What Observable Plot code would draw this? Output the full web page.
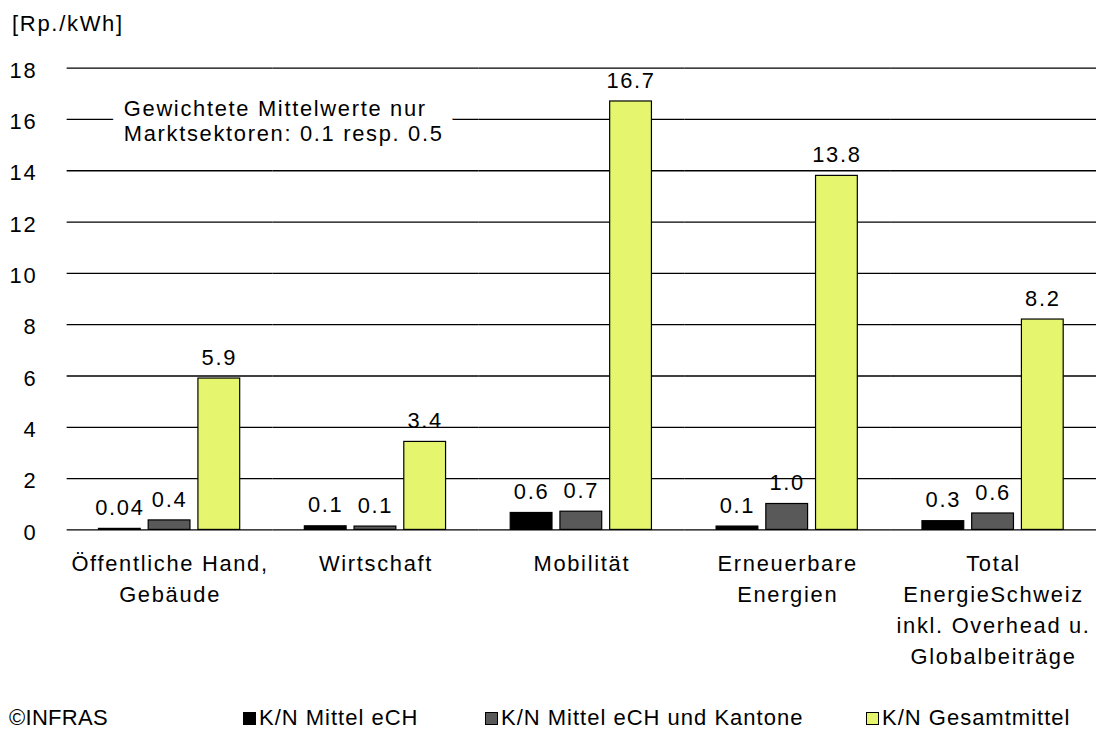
<!DOCTYPE html>
<html><head><meta charset="utf-8">
<script src="https://cdn.jsdelivr.net/npm/d3@7"></script>
<script src="https://cdn.jsdelivr.net/npm/@observablehq/plot@0.6"></script>
<style>
body{margin:0;overflow:hidden;background:#fff;}
#wrap{position:relative;width:1098px;height:729px;overflow:hidden;font-family:"Liberation Sans",Arial,sans-serif;color:#000;}
.lbl{position:absolute;font-size:22px;line-height:22px;white-space:nowrap;letter-spacing:1.7px}
.leg{letter-spacing:1px}
.sw{display:inline-block;width:13px;height:13px;box-sizing:border-box;border:1px solid #000;margin-right:3px;vertical-align:baseline}
#chart{position:absolute;left:0;top:0}
</style></head>
<body><div id="wrap"><div id="chart"></div>
<div class="lbl" style="left:12px;top:13.4px">[Rp./kWh]</div>
<div class="lbl" style="left:9px;top:707.4px;letter-spacing:0.3px">©INFRAS</div>
</div>
<script>
// ---- data ----
const categories = ["Öffentliche Hand, Gebäude", "Wirtschaft", "Mobilität", "Erneuerbare Energien", "Total EnergieSchweiz inkl. Overhead u. Globalbeiträge"];
const categoryLabels = ["Öffentliche Hand,\nGebäude", "Wirtschaft", "Mobilität", "Erneuerbare\nEnergien", "Total\nEnergieSchweiz\ninkl. Overhead u.\nGlobalbeiträge"];
const series = ["K/N Mittel eCH", "K/N Mittel eCH und Kantone", "K/N Gesamtmittel"];
const colors = ["#000000", "#595959", "#e6f56e"];
const mittelECH = [0.04, 0.14, 0.66, 0.13, 0.34];
const mittelECHKantone = [0.37, 0.13, 0.71, 1.01, 0.64];
const gesamtmittel = [5.9, 3.43, 16.7, 13.8, 8.2];
const mittelECHLabels = ["0.04", "0.1", "0.6", "0.1", "0.3"];
const mittelECHKantoneLabels = ["0.4", "0.1", "0.7", "1.0", "0.6"];
const gesamtmittelLabels = ["5.9", "3.4", "16.7", "13.8", "8.2"];
const yTicks = [0, 2, 4, 6, 8, 10, 12, 14, 16, 18];
const annotationText = "Gewichtete Mittelwerte nur\nMarktsektoren: 0.1 resp. 0.5";
const annotationValue = 16;

// ---- table ----
const seriesValues = [mittelECH, mittelECHKantone, gesamtmittel];
const seriesLabels = [mittelECHLabels, mittelECHKantoneLabels, gesamtmittelLabels];
const rows = [];
categories.forEach((c, i) => series.forEach((s, j) => rows.push({category: c, series: s, value: seriesValues[j][i], label: seriesLabels[j][i]})));
const catRows = categories.map((c, i) => ({category: c, label: categoryLabels[i]}));

const annotOpts = {fx: () => categories[0], y: () => annotationValue, text: d => d, frameAnchor: "left", dx: 57, dy: 1, textAnchor: "start", lineAnchor: "middle", lineHeight: 1.136, fontSize: 22};

const chart = Plot.plot({
  width: 1104, height: 690,
  marginLeft: 65, marginRight: 0, marginTop: 68, marginBottom: 157.7,
  style: {fontFamily: '"Liberation Sans", Arial, sans-serif', fontSize: "22px", letterSpacing: "1.7px", color: "#000", background: "transparent", overflow: "visible"},
  fx: {domain: categories, padding: 0, axis: null},
  x: {domain: series, paddingInner: 0.157, paddingOuter: 0.616, axis: null},
  y: {domain: [0, 18], axis: null},
  color: {domain: series, range: colors},
  marks: [
    Plot.ruleY(yTicks, {stroke: "#000", strokeWidth: 1.3}),
    Plot.text([annotationText], {...annotOpts, fill: "#fff", stroke: "#fff", strokeWidth: 28, strokeLinejoin: "round"}),
    Plot.text([annotationText], {...annotOpts, fill: "#000"}),
    Plot.barY(rows, {fx: "category", x: "series", y: "value", fill: "series", stroke: "#000", strokeWidth: 1.2}),
    Plot.text(rows, {fx: "category", x: "series", y: "value", text: "label", dy: -21, lineAnchor: "middle", fontSize: 22, fill: "#000"}),
    Plot.text(catRows, {fx: "category", text: "label", frameAnchor: "bottom", lineAnchor: "top", dy: 19.6, lineHeight: 1.41, fontSize: 22, fill: "#000"}),
    Plot.axisY(yTicks, {tickSize: 0, tickPadding: 30, fontSize: 22, dy: 2.6, label: null})
  ]
});
document.getElementById("chart").appendChild(chart);

// ---- legend ----
const legendLeft = [243, 485, 866];
const wrap = document.getElementById("wrap");
series.forEach((s, j) => {
  const d = document.createElement("div");
  d.className = "lbl leg";
  d.style.left = legendLeft[j] + "px";
  d.style.top = "707.4px";
  const sw = document.createElement("span");
  sw.className = "sw";
  sw.style.background = colors[j];
  d.appendChild(sw);
  d.appendChild(document.createTextNode(s));
  wrap.appendChild(d);
});
</script>
</body></html>
